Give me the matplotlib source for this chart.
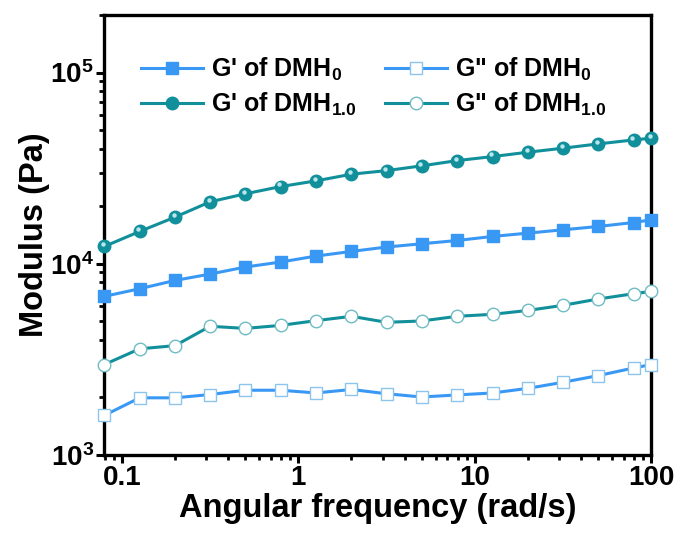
import numpy as np
import matplotlib
matplotlib.use("Agg")
import matplotlib.pyplot as plt
import matplotlib.transforms as mtransforms
from matplotlib.ticker import LogLocator, NullFormatter, FixedLocator, FixedFormatter

plt.rcParams['font.family'] = ['Liberation Sans', 'DejaVu Sans']
plt.rcParams['font.weight'] = 'bold'
plt.rcParams['mathtext.fontset'] = 'custom'
plt.rcParams['mathtext.rm'] = 'Liberation Sans:bold'
plt.rcParams['mathtext.bf'] = 'Liberation Sans:bold'
plt.rcParams['mathtext.it'] = 'Liberation Sans:bold'

# angular frequency (rad/s)
freq = [0.0794, 0.126, 0.2, 0.316, 0.5, 0.794, 1.26, 2.0, 3.16, 5.0,
        7.94, 12.6, 20.0, 31.6, 50.0, 79.4, 100.0]

# moduli (Pa)
gp_dmh0 = [6750, 7400, 8180, 8830, 9610, 10210, 10970, 11600, 12230, 12720,
           13230, 13890, 14460, 15050, 15660, 16430, 16970]
gpp_dmh0 = [1610, 1990, 1990, 2070, 2180, 2180, 2110, 2200, 2090, 2010,
            2060, 2110, 2230, 2400, 2600, 2850, 2970]
gp_dmh10 = [12310, 14750, 17530, 21080, 23210, 25330, 27130, 29400, 30690, 32500,
            34630, 36340, 38310, 40200, 42330, 44410, 45330]
gpp_dmh10 = [2970, 3590, 3730, 4710, 4590, 4760, 5040, 5310, 4940, 5020,
             5310, 5440, 5700, 6060, 6540, 6970, 7170]

blue = '#3a98f5'
teal = '#11909b'

fig = plt.figure(figsize=(6.77, 5.34), dpi=100)
ax = fig.add_axes([0.154, 0.148, 0.808, 0.824])

l1, = ax.plot(freq, gp_dmh0, '-s', color=blue, lw=2.2, ms=8,
              mfc=blue, mec=blue, label="G' of DMH$_{0}$", clip_on=False, zorder=3)
l2, = ax.plot(freq, gpp_dmh0, '-s', color=blue, lw=2.2, ms=8,
              mfc='white', mec='#8cc4ec', mew=1.0, label='G" of DMH$_{0}$', clip_on=False, zorder=3)
l3, = ax.plot(freq, gp_dmh10, '-o', color=teal, lw=2.2, ms=9,
              mfc=teal, mec=teal, label="G' of DMH$_{1.0}$", clip_on=False, zorder=3)
l4, = ax.plot(freq, gpp_dmh10, '-o', color=teal, lw=2.2, ms=9,
              mfc='white', mec='#6fbcc3', mew=1.0, label='G" of DMH$_{1.0}$', clip_on=False, zorder=3)

# small highlight on the filled spheres
hl = mtransforms.offset_copy(ax.transData, fig=fig, x=-1.0, y=1.5, units='points')
ax.plot(freq, gp_dmh10, 'o', ms=3.2, mfc='#b8e6ea', mec='none', transform=hl,
        clip_on=False, zorder=4)

ax.set_xscale('log')
ax.set_yscale('log')
ax.set_xlim(0.0794, 100)
ax.set_ylim(1e3, 2e5)

ax.xaxis.set_major_locator(FixedLocator([0.1, 1, 10, 100]))
ax.xaxis.set_major_formatter(FixedFormatter(['0.1', '1', '10', '100']))
ax.xaxis.set_minor_locator(LogLocator(base=10, subs=np.arange(2, 10)))
ax.xaxis.set_minor_formatter(NullFormatter())
ax.yaxis.set_major_locator(FixedLocator([1e3, 1e4, 1e5]))
ax.yaxis.set_major_formatter(FixedFormatter([r'$\mathbf{10^{3}}$', r'$\mathbf{10^{4}}$', r'$\mathbf{10^{5}}$']))
ax.yaxis.set_minor_locator(LogLocator(base=10, subs=np.arange(2, 10)))
ax.yaxis.set_minor_formatter(NullFormatter())

ax.tick_params(which='major', direction='out', length=6, width=2.2, labelsize=20, pad=1.5)
ax.tick_params(which='minor', direction='out', length=3.5, width=2.0)
ax.tick_params(top=False, right=False)
for sp in ax.spines.values():
    sp.set_linewidth(2.4)

ax.set_xlabel('Angular frequency (rad/s)', fontsize=23.5, fontweight='bold', labelpad=1)
ax.set_ylabel('Modulus (Pa)', fontsize=23.5, fontweight='bold', labelpad=0)

leg = ax.legend(handles=[l1, l3, l2, l4], ncol=2, loc='upper left',
                bbox_to_anchor=(0.048, 0.93), frameon=False, fontsize=18,
                handlelength=2.5, columnspacing=1.15, labelspacing=0.3,
                handletextpad=0.3, borderaxespad=0)

fig.savefig('out.png', dpi=100)
